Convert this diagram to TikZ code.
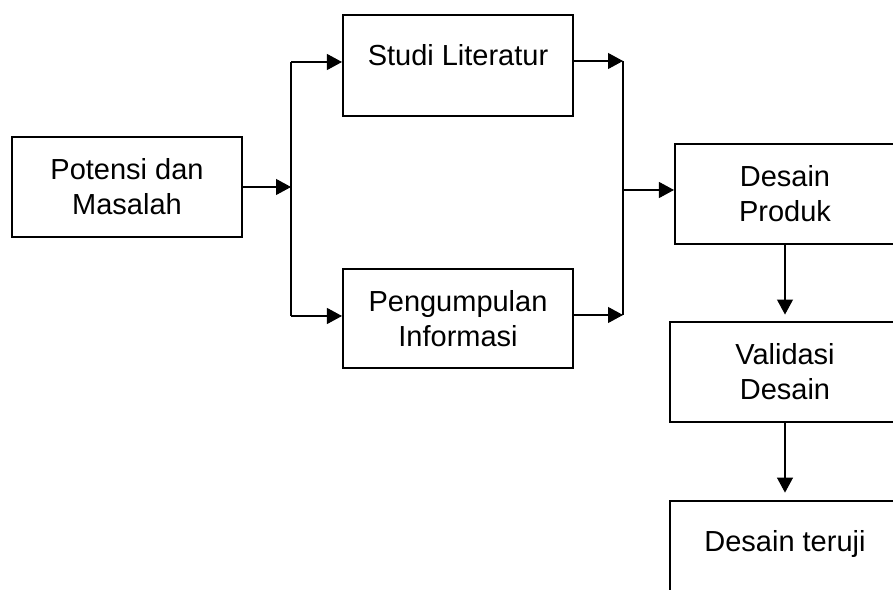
\documentclass[tikz,border=0pt]{standalone}
\usepackage{fontspec}
\setmainfont{Liberation Sans}
\usetikzlibrary{arrows.meta,positioning}

\begin{document}
\begin{tikzpicture}[
  x=0.02cm,y=-0.02cm,
  stagebox/.style={draw,line width=1.2pt,align=center,inner sep=0pt,
    minimum width=4.6cm,minimum height=2cm,
    font=\fontsize{16.5}{20}\selectfont},
  flow/.style={-{Triangle[length=0.3cm,width=0.32cm]},line width=0.6pt},
  link/.style={line width=0.6pt}
]
  \useasboundingbox (0,0) rectangle (893,590);
  \clip (0,0) rectangle (893,590);
  \node[stagebox] (pot) at (127,187) {Potensi dan\\Masalah};
  \node[stagebox,minimum height=2.02cm,text height=0.4cm,text depth=0.4cm]
    (studi) at (458,65.5) {Studi Literatur};
  \node[stagebox,minimum height=1.98cm] (peng) at (458,318.5) {Pengumpulan\\Informasi};
  \node[stagebox,minimum width=4.4cm] (desain) at (785,194) {Desain\\Produk};
  \node[stagebox,below=1.52cm of desain] (valid) {Validasi\\Desain};
  \node[stagebox,below=1.54cm of valid,text height=0.4cm,text depth=0.4cm]
    (teruji) {Desain teruji};
  % branch points
  \coordinate (jl) at (291,187);
  \coordinate (jlt) at (291,62);
  \coordinate (jlb) at (291,316);
  \coordinate (jr) at (623,190);
  \coordinate (jrt) at (623,61);
  \coordinate (jrb) at (623,315);
  \draw[flow] (pot.east |- jl) -- (jl);
  \draw[link] (jlt) -- (jlb);
  \draw[flow] (jlt) -- (jlt -| studi.west);
  \draw[flow] (jlb) -- (jlb -| peng.west);
  \draw[flow] (jrt -| studi.east) -- (jrt);
  \draw[flow] (jrb -| peng.east) -- (jrb);
  \draw[link] (jrt) -- (jrb);
  \draw[flow] (jr) -- (jr -| desain.west);
  \draw[flow,shorten >=0.13cm] (desain.south) -- (desain.south |- valid.north);
  \draw[flow,shorten >=0.15cm] (valid.south) -- (teruji.north);
\end{tikzpicture}
\end{document}
